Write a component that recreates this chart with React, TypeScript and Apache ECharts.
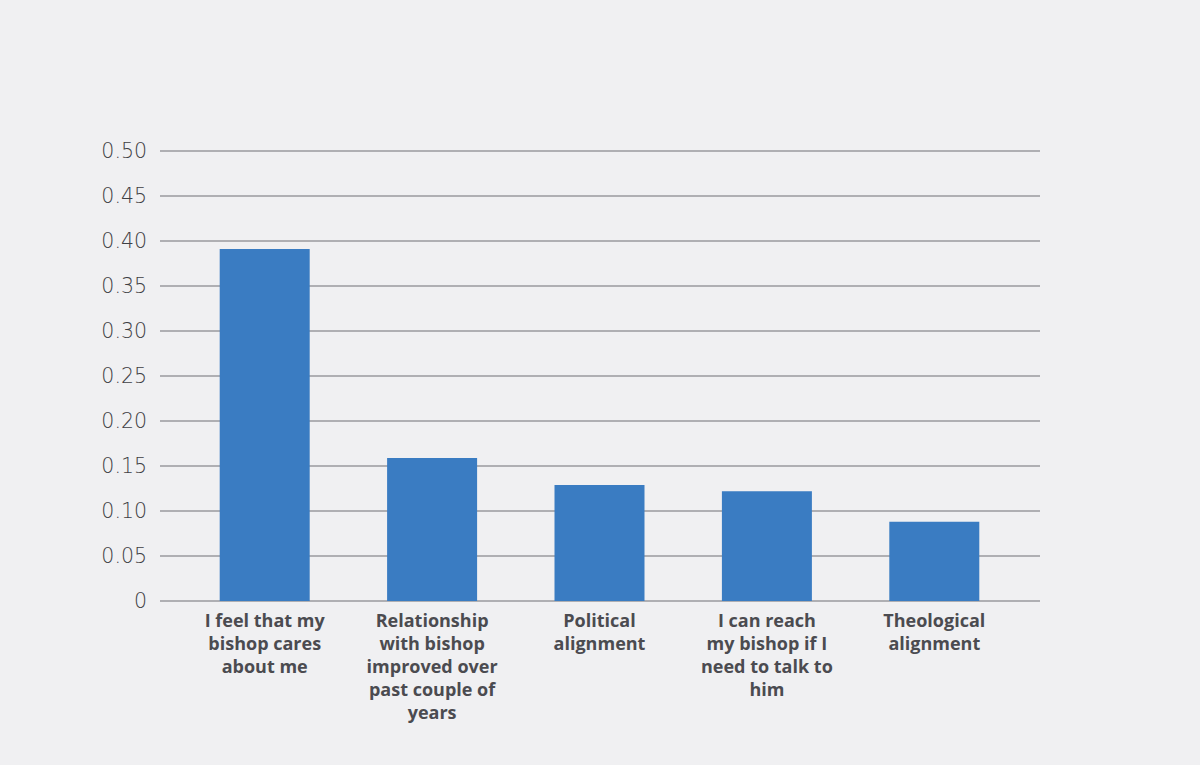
import React, { useEffect, useRef } from "react";
import * as echarts from "echarts";

const categories = [
  "I feel that my\nbishop cares\nabout me",
  "Relationship\nwith bishop\nimproved over\npast couple of\nyears",
  "Political\nalignment",
  "I can reach\nmy bishop if I\nneed to talk to\nhim",
  "Theological\nalignment",
];
const values = [0.391, 0.159, 0.129, 0.122, 0.088];
const yMin = 0;
const yMax = 0.5;
const yStep = 0.05;

export default function App() {
  const ref = useRef<HTMLDivElement>(null);
  useEffect(() => {
    document.body.style.margin = "0";
    const chart = echarts.init(ref.current!, null, { renderer: "svg" });
    chart.setOption({
      animation: false,
      backgroundColor: "#f0f0f2",
      grid: [
        { left: 160, right: 160, top: 151, bottom: 164 },
        { left: 181, right: 182, top: 151, bottom: 164 },
      ],
      xAxis: [
        { type: "category", gridIndex: 0, data: [""], show: false },
        {
          type: "category",
          gridIndex: 1,
          data: categories,
          axisLine: { show: false },
          axisTick: { show: false },
          axisLabel: {
            interval: 0,
            margin: 7,
            color: "#4b4b50",
            fontFamily: "'Open Sans', sans-serif",
            fontWeight: "bold",
            fontSize: 18,
            lineHeight: 23,
            align: "center",
          },
        },
      ],
      yAxis: [
        {
          type: "value",
          gridIndex: 0,
          min: yMin,
          max: yMax,
          interval: yStep,
          axisLine: { show: false },
          axisTick: { show: false },
          axisLabel: {
            margin: 13,
            color: "#3f3f44",
            fontFamily: "'DejaVu Sans', sans-serif",
            fontWeight: 200,
            fontSize: 20.5,
            formatter: (v: number) => (v === 0 ? "0" : v.toFixed(2)),
          },
          splitLine: { lineStyle: { color: "#9a9a9e", width: 1.5 } },
        },
        {
          type: "value",
          gridIndex: 1,
          min: yMin,
          max: yMax,
          interval: yStep,
          show: false,
          splitLine: { show: false },
        },
      ],
      series: [
        {
          type: "bar",
          xAxisIndex: 1,
          yAxisIndex: 1,
          data: values,
          barWidth: 90,
          itemStyle: { color: "#3a7cc2" },
        },
      ],
    });
    return () => chart.dispose();
  }, []);
  return <div ref={ref} style={{ width: 1200, height: 765 }} />;
}
